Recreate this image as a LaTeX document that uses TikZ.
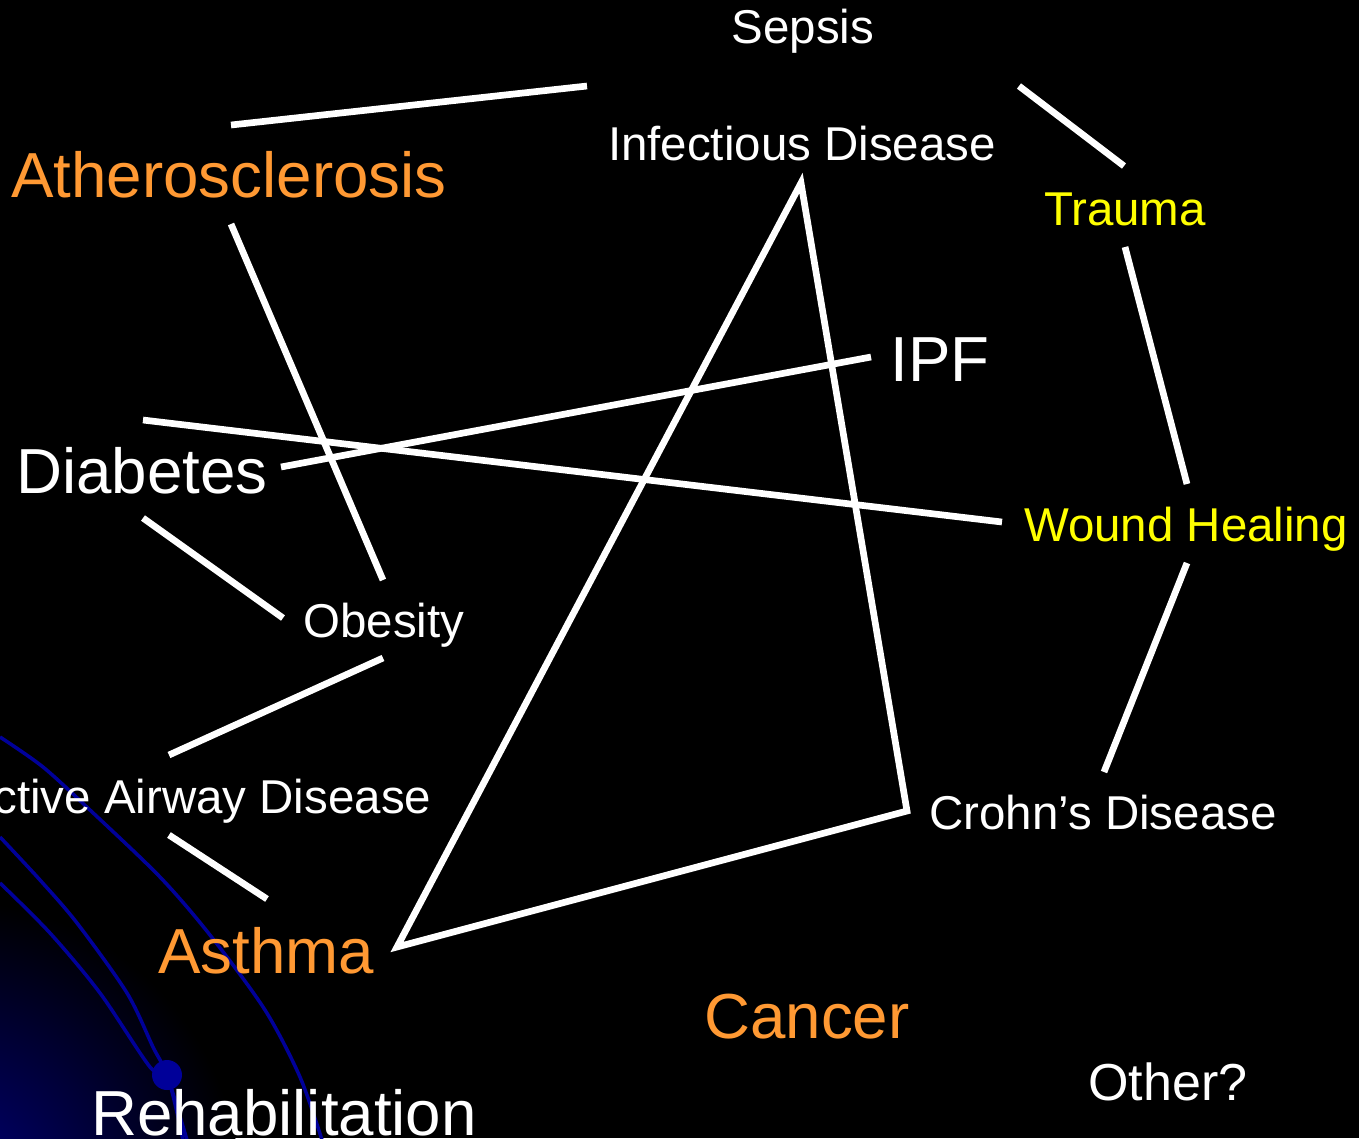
\documentclass[tikz,border=0pt]{standalone}
\usepackage{fontspec}
\setmainfont{Liberation Sans}
\usetikzlibrary{positioning,calc}

\definecolor{slideorange}{RGB}{255,153,51}
\definecolor{slideyellow}{RGB}{255,255,0}
\definecolor{slideblue}{RGB}{0,0,153}
\definecolor{glowblue}{RGB}{0,0,120}

\def\smallsize{13.5}
\def\bigsize{18.1}

\tikzset{
  term/.style={inner sep=0, anchor=base, text=white, font=\fontsize{\smallsize}{16}\selectfont},
  bigterm/.style={term, font=\fontsize{\bigsize}{21}\selectfont},
  link/.style={white, line width=1.9pt},
  swoosh/.style={slideblue, line width=1pt},
}

\begin{document}
\begin{tikzpicture}[x=0.01cm, y=-0.01cm]
  \useasboundingbox (0,0) rectangle (1359,1138);
  \clip (0,0) rectangle (1359,1138);
  \fill[black] (0,0) rectangle (1359,1138);

  % background swooshes
  \shade[inner color=glowblue, outer color=black] (-50,1190) circle (290);
  \draw[swoosh] plot[smooth] coordinates {(0,737) (43,767) (90,810) (160,877) (210,935) (265,1010) (300,1077) (322,1140)};
  \draw[swoosh] plot[smooth] coordinates {(0,837) (40,880) (77,923) (127,993) (153,1047) (167,1075) (187,1140)};
  \draw[swoosh] plot[smooth] coordinates {(0,883) (50,933) (100,993) (150,1067) (167,1075) (183,1140)};
  \fill[slideblue] (167,1075) circle (15);

  % terms
  \node[term] (sepsis) at (803,43) {Sepsis};
  \node[term] (infect) at (802,160) {Infectious Disease};
  \node[bigterm, text=slideorange] (athero) at (229,197) {Atherosclerosis};
  \node[term, text=slideyellow] (trauma) at (1125,225) {Trauma};
  \node[bigterm] (ipf) at (940,381) {IPF};
  \node[bigterm] (diabetes) at (142,493) {Diabetes};
  \node[term, text=slideyellow] (wound) at (1186,541) {Wound Healing};
  \node[term] (obesity) at (384,637) {Obesity};
  \node[term, anchor=base east] (rad) at (432,813) {Reactive Airway Disease};
  \node[bigterm, text=slideorange] (asthma) at (266,973) {Asthma};
  \node[term] (crohn) at (1103,829) {Crohn’s Disease};
  \node[bigterm, text=slideorange] (cancer) at (807,1038) {Cancer};
  \node[term, font=\fontsize{14.8}{18}\selectfont] (other) at (1168,1100) {Other?};
  \node[bigterm] (rehab) at (284,1135) {Rehabilitation};

  % line ends
  \coordinate (atheroN) at (231,125);
  \coordinate (sepsisW) at (587,86);
  \coordinate (sepsisE) at (1019,86);
  \coordinate (traumaN) at (1124,166);
  \coordinate (atheroS) at (231,224);
  \coordinate (obesityN) at (383,580);
  \coordinate (diabetesN) at (143,420);
  \coordinate (woundW) at (1002,522);
  \coordinate (diabetesE) at (281,467);
  \coordinate (ipfW) at (871,357);
  \coordinate (diabetesS) at (143,518);
  \coordinate (obesityW) at (283,618);
  \coordinate (obesityS) at (383,658);
  \coordinate (radN) at (169,755);
  \coordinate (radS) at (169,835);
  \coordinate (asthmaN) at (267,899);
  \coordinate (infectS) at (801,183);
  \coordinate (asthmaE) at (397,947);
  \coordinate (crohnW) at (907,811);
  \coordinate (traumaS) at (1125,247);
  \coordinate (woundN) at (1187,484);
  \coordinate (woundS) at (1187,563);
  \coordinate (crohnN) at (1104,772);

  % links
  \draw[link] (atheroN) -- (sepsisW);
  \draw[link] (sepsisE) -- (traumaN);
  \draw[link] (atheroS) -- (obesityN);
  \draw[link] (diabetesN) -- (woundW);
  \draw[link] (diabetesE) -- (ipfW);
  \draw[link] (diabetesS) -- (obesityW);
  \draw[link] (obesityS) -- (radN);
  \draw[link] (radS) -- (asthmaN);
  \draw[link] (infectS) -- (asthmaE) -- (crohnW) -- cycle;
  \draw[link] (traumaS) -- (woundN);
  \draw[link] (woundS) -- (crohnN);
\end{tikzpicture}
\end{document}
